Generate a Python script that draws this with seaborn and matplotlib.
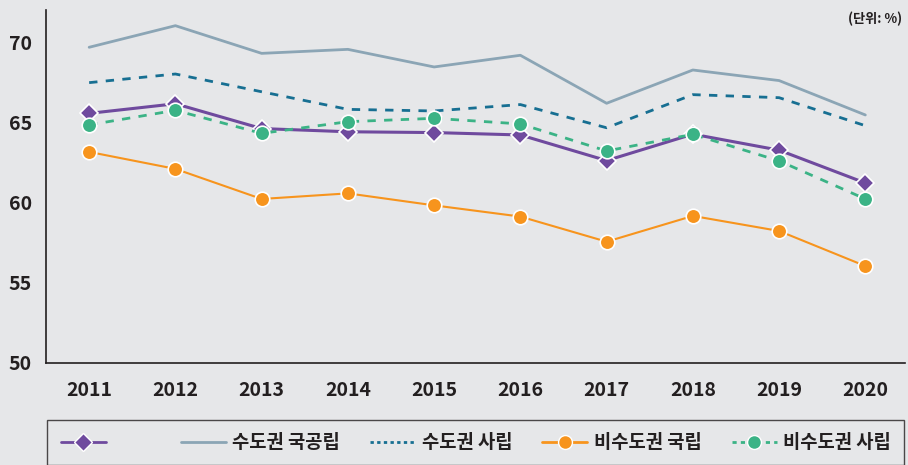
import matplotlib
matplotlib.use("Agg")
import matplotlib.pyplot as plt
import seaborn as sns
import pandas as pd
from matplotlib.lines import Line2D

years = [2011, 2012, 2013, 2014, 2015, 2016, 2017, 2018, 2019, 2020]
purple_series = [65.6, 66.2, 64.65, 64.45, 64.4, 64.25, 62.65, 64.3, 63.3, 61.25]
metro_public = [69.73, 71.08, 69.35, 69.6, 68.5, 69.23, 66.23, 68.31, 67.65, 65.5]
metro_private = [67.52, 68.06, 66.95, 65.85, 65.75, 66.15, 64.7, 66.77, 66.58, 64.83]
nonmetro_public = [63.19, 62.13, 60.25, 60.6, 59.85, 59.15, 57.58, 59.19, 58.25, 56.06]
nonmetro_private = [64.88, 65.79, 64.35, 65.08, 65.29, 64.94, 63.25, 64.29, 62.63, 60.25]

labels = ["         ", "수도권 국공립", "수도권 사립", "비수도권 국립", "비수도권 사립"]
yticks = [50, 55, 60, 65, 70]

sns.set_theme(style="white")
plt.rcParams['font.family'] = ['Noto Sans CJK KR', 'DejaVu Sans']
plt.rcParams['font.weight'] = 'bold'

bg = "#e6e7e9"
ink = "#231f20"
fig = plt.figure(figsize=(9.08, 4.65), dpi=100, facecolor=bg)
ax = fig.add_axes([0.0507, 0.2194, 0.946, 0.7591])
ax.set_facecolor(bg)

styles = [
    dict(color="#6f4a9e", lw=2.2, ls="-", marker="D", ms=9),
    dict(color="#8ba5b5", lw=2.0, ls="-", marker=None, ms=0),
    dict(color="#176f92", lw=2.0, ls=(0, (3, 3)), marker=None, ms=0),
    dict(color="#f7941d", lw=1.5, ls="-", marker="o", ms=10.5),
    dict(color="#3bb386", lw=2.0, ls=(0, (3, 3)), marker="o", ms=10.5),
]
series = [purple_series, metro_public, metro_private, nonmetro_public, nonmetro_private]
order = [1, 2, 3, 4, 0]
zorders = {0: 4, 1: 2, 2: 2, 3: 3, 4: 5}
for i in order:
    st = styles[i]
    df = pd.DataFrame({"year": years, "value": series[i]})
    kw = {}
    if st["marker"]:
        kw = dict(marker=st["marker"], markersize=st["ms"], markeredgecolor="white",
                  markeredgewidth=1.2, markerfacecolor=st["color"])
    sns.lineplot(data=df, x="year", y="value", ax=ax, color=st["color"], lw=st["lw"],
                 linestyle=st["ls"], zorder=zorders[i], **kw)

ax.set_xlim(2010.5, 2020.46)
ax.set_ylim(50, 72.06)
ax.set_xticks(years)
ax.set_xticklabels([str(y) for y in years], fontsize=14, fontweight='bold', color=ink)
ax.set_yticks(yticks)
ax.set_yticklabels([str(y) for y in yticks], fontsize=14, fontweight='bold', color=ink)
ax.tick_params(axis='x', length=0, pad=13)
ax.tick_params(axis='y', length=4.3, width=1, color=ink, pad=22.6, direction='out')
for lab in ax.get_yticklabels():
    lab.set_horizontalalignment('left')
ax.set_xlabel("")
ax.set_ylabel("")
for s in ["top", "right"]:
    ax.spines[s].set_visible(False)
for s in ["left", "bottom"]:
    ax.spines[s].set_color(ink)
    ax.spines[s].set_linewidth(1.2)

fig.text(0.994, 0.959, "(단위: %)", ha="right", va="center", fontsize=9.5,
         fontweight="bold", color=ink)

handles = [
    Line2D([], [], color="#6f4a9e", lw=2, marker="D", ms=9, markeredgecolor="white", markeredgewidth=1),
    Line2D([], [], color="#8ba5b5", lw=2),
    Line2D([], [], color="#176f92", lw=2, ls=(0, (1.2, 1.2))),
    Line2D([], [], color="#f7941d", lw=2, marker="o", ms=10, markeredgecolor="white", markeredgewidth=1),
    Line2D([], [], color="#3bb386", lw=2, ls=(0, (1.5, 1.5)), marker="o", ms=10, markeredgecolor="white", markeredgewidth=1),
]
leg = fig.legend(handles, labels, loc="upper left", bbox_to_anchor=(0.0523, 0.0, 0.9433, 0.0968),
                 mode="expand", ncol=5, frameon=True, fancybox=False, fontsize=13.5,
                 handlelength=2.4, handletextpad=0.35, columnspacing=0.4, borderaxespad=0,
                 borderpad=0.7)
leg.get_frame().set_edgecolor(ink)
leg.get_frame().set_linewidth(1.0)
leg.get_frame().set_facecolor(bg)
for t in leg.get_texts():
    t.set_fontweight("bold")
    t.set_color(ink)

fig.savefig("out.png", dpi=100, facecolor=bg)
